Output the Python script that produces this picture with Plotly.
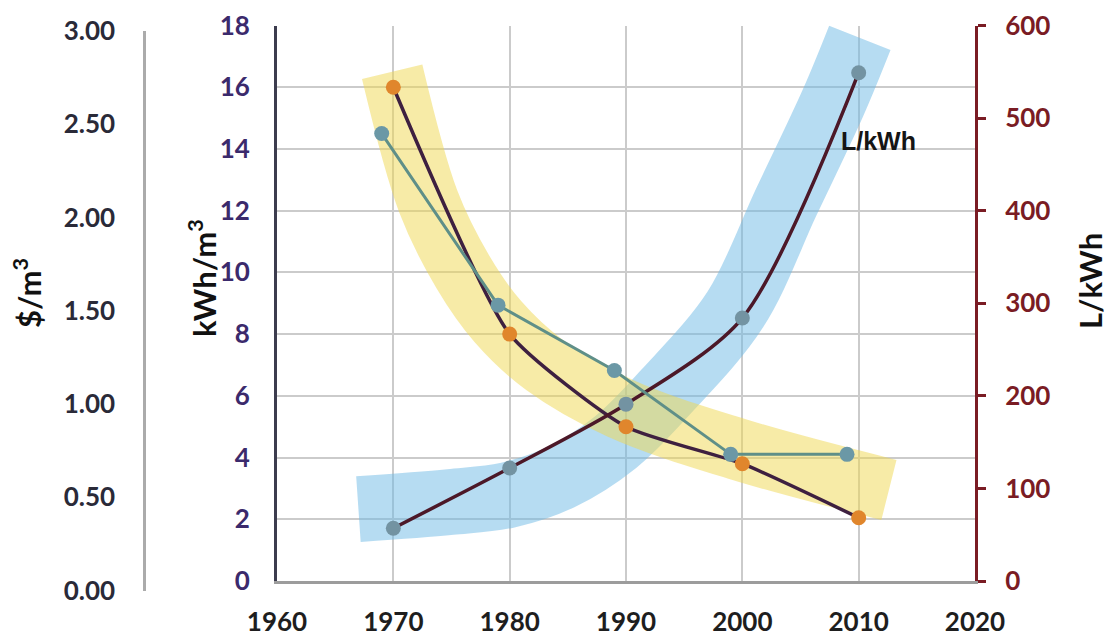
import plotly.graph_objects as go

# The page puts the figure 8 px in from the window's top-left corner,
# so the figure is sized to fill the rest of the 1113x636 window.
OFF = 8
W, H = 1113 - OFF, 636 - OFF

# ---- data ----
years = [1970, 1980, 1990, 2000, 2010]
energy_kwh_m3 = [16.0, 8.0, 5.0, 3.8, 2.05]          # orange markers, kWh/m3
water_l_kwh = [57, 122, 191, 284, 549]               # blue-grey markers, L/kWh
cost_years = [1969, 1979, 1989, 1999, 2009]
cost_usd_m3 = [2.45, 1.53, 1.18, 0.73, 0.73]         # teal markers, $/m3

# trend bands (centre lines, kWh/m3 scale)
yellow_band_years = [1969.9, 1973.0, 1976.0, 1979.0, 1983.0, 1989.5, 1999.8, 2012.6]
yellow_band_kwh = [16.5, 12.3, 10.0, 8.4, 7.0, 5.6, 4.25, 2.95]
blue_band_years = [1967.0, 1974.9, 1979.8, 1984.3, 1989.1, 1993.4, 1999.4, 2003.8, 2007.8, 2010.1]
blue_band_kwh = [2.33, 2.56, 2.78, 3.35, 4.5, 6.12, 8.8, 12.3, 15.5, 17.6]

x_ticks = [1960, 1970, 1980, 1990, 2000, 2010, 2020]

# ---- styling ----
FONT = "Lato"
GRID = "#cbcbcb"
PURPLE = "#3b2a6c"
DARKRED = "#7a1c24"

def px_x(p):
    return (p - OFF) / W

def px_y(p):
    return 1 - (p - OFF) / H

fig = go.Figure()

fig.add_trace(go.Scatter(
    x=blue_band_years, y=blue_band_kwh, mode="lines",
    line=dict(color="rgba(110,185,230,0.5)", width=66, shape="spline", smoothing=1.0),
    hoverinfo="skip", showlegend=False, xaxis="x", yaxis="y"))
fig.add_trace(go.Scatter(
    x=yellow_band_years, y=yellow_band_kwh, mode="lines",
    line=dict(color="rgba(240,215,80,0.5)", width=62, shape="spline", smoothing=1.0),
    hoverinfo="skip", showlegend=False, xaxis="x", yaxis="y"))

fig.add_trace(go.Scatter(
    x=years, y=energy_kwh_m3, mode="lines+markers",
    line=dict(color="#3e2040", width=3.5, shape="spline", smoothing=0.55),
    marker=dict(color="#e0862c", size=15),
    showlegend=False, xaxis="x", yaxis="y"))

fig.add_trace(go.Scatter(
    x=years, y=water_l_kwh, mode="lines+markers",
    line=dict(color="#4c1828", width=3.5, shape="spline", smoothing=0.8),
    marker=dict(color="#7393a2", size=15),
    showlegend=False, xaxis="x", yaxis="y2"))

fig.add_trace(go.Scatter(
    x=cost_years, y=cost_usd_m3, mode="lines+markers",
    line=dict(color="#5f8f88", width=3),
    marker=dict(color="#6b98a6", size=15),
    showlegend=False, xaxis="x2", yaxis="y3"))

tickfont = dict(family=FONT, size=26, weight="bold")

fig.update_layout(
    width=W, height=H,
    margin=dict(l=0, r=0, t=0, b=0),
    paper_bgcolor="white", plot_bgcolor="rgba(0,0,0,0)",
    xaxis=dict(
        domain=[px_x(277), px_x(975)], range=[1960, 2020],
        tickvals=x_ticks, ticktext=[str(v) for v in x_ticks],
        showgrid=True, gridcolor=GRID, gridwidth=2,
        showline=True, linecolor="#9c9c9c", linewidth=3,
        zeroline=False, ticks="", ticklabelstandoff=16,
        tickfont=dict(tickfont, color="#1e1e1e"),
        anchor="y", automargin=False, fixedrange=True),
    xaxis2=dict(
        domain=[px_x(277), px_x(975)], range=[1960, 2020],
        visible=False, anchor="y3", fixedrange=True),
    yaxis=dict(
        domain=[px_y(581), px_y(25.5)], range=[0, 18], dtick=2,
        showgrid=True, gridcolor=GRID, gridwidth=2,
        showline=True, linecolor="#3c3c4e", linewidth=3,
        zeroline=False, ticks="", ticklabelstandoff=19,
        tickfont=dict(tickfont, color=PURPLE),
        anchor="x", automargin=False, fixedrange=True),
    yaxis2=dict(
        range=[0, 600], dtick=100, overlaying="y", side="right", anchor="x",
        showgrid=False, zeroline=False,
        showline=True, linecolor=DARKRED, linewidth=3,
        ticks="outside", ticklen=8, tickwidth=2.5, tickcolor=DARKRED,
        ticklabelstandoff=14,
        tickfont=dict(tickfont, color=DARKRED),
        automargin=False, fixedrange=True),
    yaxis3=dict(
        domain=[px_y(590.5), px_y(31)], range=[0, 3], dtick=0.5, tickformat=".2f",
        anchor="free", position=px_x(144), side="left",
        showgrid=False, zeroline=False,
        showline=True, linecolor="#ababab", linewidth=2.5,
        ticks="", ticklabelstandoff=23,
        tickfont=dict(tickfont, color="#2a2a38"),
        automargin=False, fixedrange=True),
)

title_font = dict(family=FONT, size=31, weight="bold", color="#111111")
fig.add_annotation(text="$/m<sup>3</sup>", x=px_x(27), y=px_y(293), xref="paper", yref="paper",
                   textangle=-90, showarrow=False, xanchor="center", yanchor="middle", font=title_font)
fig.add_annotation(text="kWh/m<sup>3</sup>", x=px_x(202), y=px_y(278), xref="paper", yref="paper",
                   textangle=-90, showarrow=False, xanchor="center", yanchor="middle", font=title_font)
fig.add_annotation(text="L/kWh", x=px_x(1090), y=px_y(281), xref="paper", yref="paper",
                   textangle=-90, showarrow=False, xanchor="center", yanchor="middle", font=title_font)
fig.add_annotation(text="L/kWh", x=2011.7, y=14.25, xref="x", yref="y",
                   showarrow=False, xanchor="center", yanchor="middle",
                   font=dict(family="Liberation Sans", size=25, weight="bold", color="#151515"))

fig.write_html("out.html")
